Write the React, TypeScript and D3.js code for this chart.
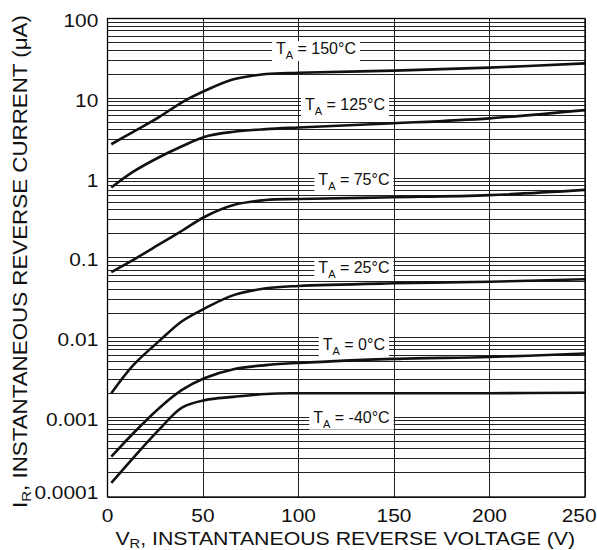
import React, { useEffect, useRef } from "react";
import * as d3 from "d3";

// Reverse voltage (V) sample points shared by every curve
const voltages = [2, 13.5, 27, 39, 51, 66, 83, 100, 150, 200, 250];
// Instantaneous reverse current (µA) per ambient temperature
const i150 = [2.65, 3.8, 5.8, 8.9, 12.4, 17.3, 20.1, 20.9, 22.2, 24.2, 27.4];
const i125 = [0.76, 1.2, 1.82, 2.5, 3.3, 3.8, 4.1, 4.3, 4.85, 5.6, 7.1];
const i75 = [0.066, 0.094, 0.147, 0.218, 0.327, 0.458, 0.53, 0.546, 0.573, 0.61, 0.71];
const i25 = [0.002, 0.0045, 0.009, 0.016, 0.0232, 0.034, 0.0414, 0.0443, 0.0478, 0.05, 0.0537];
const i0 = [0.00032, 0.00063, 0.0013, 0.0022, 0.0031, 0.004, 0.0045, 0.0048, 0.0054, 0.0057, 0.0063];
const iNeg40 = [0.00015, 0.00031, 0.0007, 0.00132, 0.00164, 0.0018, 0.00196, 0.002, 0.002, 0.002, 0.00203];
const series = [i150, i125, i75, i25, i0, iNeg40];

// Curve labels (temperature) and their anchors in data space
const labelTemps = ["150", "125", "75", "25", "0", "-40"];
const labelV = [88.2, 103.4, 110.4, 110.4, 112.7, 107.7];
const labelI = [35.9, 7.13, 0.817, 0.0638, 0.00697, 0.000855];

const xTicks = [0, 50, 100, 150, 200, 250];
const yTicks = [0.0001, 0.001, 0.01, 0.1, 1, 10, 100];
const yTickLabels = ["0.0001", "0.001", "0.01", "0.1", "1", "10", "100"];

export default function App() {
  const ref = useRef<SVGSVGElement>(null);
  useEffect(() => {
    const svg = d3.select(ref.current);
    svg.selectAll("*").remove();
    const W = 597, H = 550;
    const L = 107.5, R = 585, T = 18.5, B = 497;
    const font = "'Liberation Sans', Arial, Helvetica, sans-serif";
    const x = d3.scaleLinear().domain([0, 250]).range([L, R]);
    const y = d3.scaleLog().domain([0.0001, 100]).range([B, T]);

    svg.append("rect").attr("width", W).attr("height", H).attr("fill", "#fff");

    // minor/major horizontal grid
    const hLines: number[] = [];
    for (let e = -4; e < 2; e++) for (let k = 1; k < 10; k++) hLines.push(k * Math.pow(10, e));
    hLines.push(100);
    const grid = svg.append("g").attr("shape-rendering", "crispEdges");
    grid.selectAll("line.h").data(hLines).join("line").attr("class", "h")
      .attr("x1", L).attr("x2", R)
      .attr("y1", (d) => y(d)).attr("y2", (d) => y(d))
      .attr("stroke", "#222").attr("stroke-width", 1);
    grid.selectAll("line.v").data(xTicks).join("line").attr("class", "v")
      .attr("y1", T).attr("y2", B)
      .attr("x1", (d) => x(d)).attr("x2", (d) => x(d))
      .attr("stroke", "#222").attr("stroke-width", 1);

    // curve labels with white boxes
    const lab = svg.append("g");
    labelTemps.forEach((t, i) => {
      const g = lab.append("g");
      const tx = g.append("text").attr("x", x(labelV[i])).attr("y", y(labelI[i]))
        .attr("font-family", font).attr("font-size", 16).attr("fill", "#111");
      tx.append("tspan").text("T");
      tx.append("tspan").attr("font-size", 11).attr("dy", 5).text("A");
      tx.append("tspan").attr("dy", -5).text(` = ${t}°C`);
      const bb = (tx.node() as SVGTextElement).getBBox();
      g.insert("rect", "text").attr("x", bb.x - 4).attr("y", bb.y + 1)
        .attr("width", bb.width + 8).attr("height", bb.height - 1).attr("fill", "#fff");
    });

    // curves
    const line = d3.line<[number, number]>()
      .x((d) => x(d[0])).y((d) => y(d[1])).curve(d3.curveCatmullRom.alpha(0.5));
    svg.append("g").selectAll("path").data(series).join("path")
      .attr("d", (s) => line(voltages.map((v, j) => [v, s[j]] as [number, number])))
      .attr("fill", "none").attr("stroke", "#111").attr("stroke-width", 2.6)
      .attr("stroke-linejoin", "round");

    // frame
    svg.append("rect").attr("x", L).attr("y", T).attr("width", R - L).attr("height", B - T)
      .attr("fill", "none").attr("stroke", "#000").attr("stroke-width", 1.3);

    // x tick labels
    xTicks.forEach((v) => {
      const g = svg.append("g");
      const t = g.append("text").attr("text-anchor", "middle").attr("font-family", font)
        .attr("font-size", 19).attr("fill", "#111").text(String(v));
      const w = (t.node() as SVGTextElement).getBBox().width * 1.1;
      let cx = x(v);
      if (cx + w / 2 > W - 0.5) cx = W - 0.5 - w / 2;
      g.attr("transform", `translate(${cx},${521.5}) scale(1.1,1)`);
    });

    // y tick labels
    yTicks.forEach((v, i) => {
      const by = Math.min(y(v) + 8.5, B + 1.5);
      svg.append("text").attr("text-anchor", "end").attr("font-family", font)
        .attr("font-size", 19).attr("fill", "#111")
        .attr("transform", `translate(98.3,${by}) scale(1.1,1)`)
        .text(yTickLabels[i]);
    });

    // x title
    {
      const g = svg.append("g");
      const t = g.append("text").attr("text-anchor", "middle").attr("font-family", font)
        .attr("font-size", 19).attr("fill", "#111");
      t.append("tspan").text("V");
      t.append("tspan").attr("font-size", 13).attr("dy", 3).text("R");
      t.append("tspan").attr("dy", -3).text(", INSTANTANEOUS REVERSE VOLTAGE (V)");
      const w = (t.node() as SVGTextElement).getBBox().width;
      g.attr("transform", `translate(${(L + R) / 2 - 1},544.5) scale(${460 / w},1)`);
    }
    // y title
    {
      const g = svg.append("g");
      const t = g.append("text").attr("text-anchor", "middle").attr("font-family", font)
        .attr("font-size", 19.5).attr("fill", "#111");
      t.append("tspan").text("I");
      t.append("tspan").attr("font-size", 13).attr("dy", 4).text("R");
      t.append("tspan").attr("dy", -4).text(", INSTANTANEOUS REVERSE CURRENT (μA)");
      const w = (t.node() as SVGTextElement).getBBox().width;
      g.attr("transform", `translate(27,261.5) rotate(-90) scale(${493 / w},1)`);
    }
  }, []);
  return (
    <svg ref={ref} width={597} height={550}
      style={{ position: "absolute", left: 0, top: 0, display: "block" }} />
  );
}
